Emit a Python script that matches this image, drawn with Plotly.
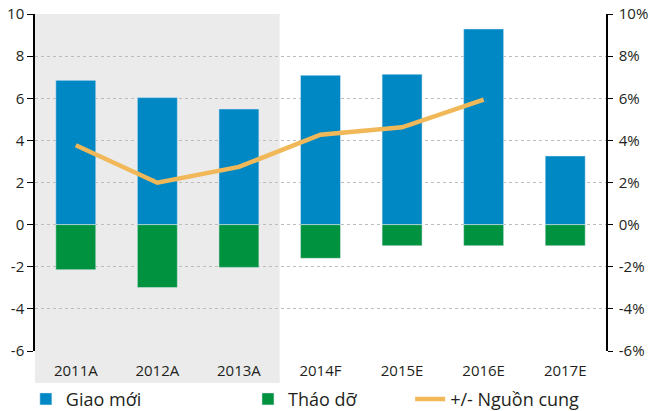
import plotly.graph_objects as go

categories = ["2011A", "2012A", "2013A", "2014F", "2015E", "2016E", "2017E"]
giao_moi = [6.85, 6.03, 5.49, 7.09, 7.14, 9.29, 3.26]
thao_do = [-2.14, -2.99, -2.03, -1.6, -1.0, -1.0, -1.0]
nguon_cung = [3.77, 1.99, 2.74, 4.27, 4.62, 5.94, None]
left_ticks = [-6, -4, -2, 0, 2, 4, 6, 8, 10]
left_tick_labels = ["-6", "-4", "-2", "0", "2", "4", "6", "8", "10"]
right_tick_labels = ["-6%", "-4%", "-2%", "0%", "2%", "4%", "6%", "8%", "10%"]

FONT = "Open Sans"
TXT = "#231F20"
xs = list(range(len(categories)))

fig = go.Figure()
fig.add_trace(go.Bar(x=xs, y=giao_moi, name="Giao mới", marker_color="#0088C4",
                     legend="legend", showlegend=True))
fig.add_trace(go.Bar(x=xs, y=thao_do, name="Tháo dỡ", marker_color="#00923F",
                     legend="legend2", showlegend=True))
fig.add_trace(go.Scatter(x=xs, y=nguon_cung, name="+/- Nguồn cung", mode="lines",
                         line=dict(color="#F0B858", width=4.5), yaxis="y2",
                         connectgaps=False, legend="legend3", showlegend=True))

n = len(categories)
leg = dict(orientation="h", y=-0.143, xanchor="left", yanchor="middle",
           font=dict(size=18), bgcolor="rgba(0,0,0,0)")
fig.update_layout(
    width=648, height=411,
    margin=dict(l=35, r=42, t=14, b=60, autoexpand=False),
    paper_bgcolor="white", plot_bgcolor="rgba(0,0,0,0)",
    showlegend=True,
    barmode="relative", bargap=0.51,
    font=dict(family=FONT, size=15, color=TXT),
    xaxis=dict(range=[-0.5, n - 0.5], tickvals=xs, ticktext=categories,
               showline=False, ticks="", showgrid=False, zeroline=False,
               tickfont=dict(size=15), automargin=False, ticklabelstandoff=9),
    xaxis2=dict(range=[-0.5, n - 0.5], overlaying="x", anchor="free",
                position=(0 - left_ticks[0]) / (left_ticks[-1] - left_ticks[0]),
                showline=True, linecolor="black", linewidth=1,
                tickvals=[i + 0.5 for i in xs[:-1]], showticklabels=False,
                ticks="outside", ticklen=5, tickcolor="black", showgrid=False,
                zeroline=False, automargin=False),
    yaxis=dict(range=[left_ticks[0], left_ticks[-1]], tickvals=left_ticks,
               ticktext=left_tick_labels,
               showline=True, linecolor="black", linewidth=1.5,
               ticks="outside", ticklen=6, tickcolor="black",
               showgrid=True, gridcolor="#BDBDBD", griddash="dot", gridwidth=1,
               zeroline=False, tickfont=dict(size=15), automargin=False),
    yaxis2=dict(range=[left_ticks[0], left_ticks[-1]], tickvals=left_ticks,
                ticktext=right_tick_labels, overlaying="y", side="right",
                showline=True, linecolor="black", linewidth=1.5,
                ticks="outside", ticklen=5, tickcolor="black",
                showgrid=False, zeroline=False, tickfont=dict(size=15),
                automargin=False, ticklabelstandoff=3),
    legend=dict(leg, x=-0.016),
    legend2=dict(leg, x=0.373),
    legend3=dict(leg, x=0.657),
    shapes=[dict(type="rect", xref="paper", yref="paper", x0=0, x1=3 / n,
                 y0=-0.095, y1=1, fillcolor="#EBEBEB", line=dict(width=0),
                 layer="below")],
)

fig.write_html("out.html", config={"displayModeBar": False},
               post_script="document.body.style.margin='0';")
